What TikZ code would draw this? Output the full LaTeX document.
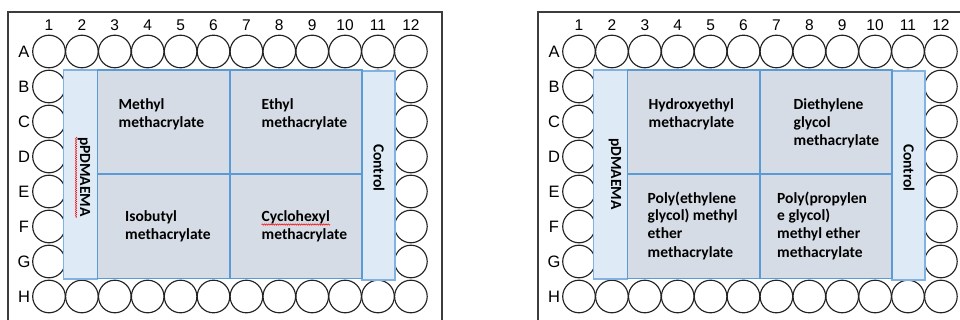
\documentclass[tikz,border=0pt]{standalone}
\usepackage{fontspec}
\setmainfont{Carlito}
\newfontfamily\arialfont{Liberation Sans}
\usepackage{tikz}
\usetikzlibrary{decorations.pathmorphing}

\definecolor{stripfill}{RGB}{222,235,247}
\definecolor{cellfill}{RGB}{214,220,229}
\definecolor{cellline}{RGB}{91,155,213}
\definecolor{stripline}{RGB}{130,178,225}
\definecolor{frameline}{RGB}{60,60,60}
\definecolor{wellline}{RGB}{35,35,35}

\tikzset{
  frame/.style={draw=frameline, line width=1.3pt},
  well/.style={circle, draw=wellline, line width=1.15pt, minimum size=32.6pt, inner sep=0pt},
  collabel/.style={font=\arialfont\fontsize{15.5}{15.5}\selectfont, inner sep=0pt},
  rowlabel/.style={font=\arialfont\fontsize{16.5}{16.5}\selectfont, inner sep=0pt},
  strip/.style={fill=stripfill, draw=stripline, line width=1.2pt},
  cell/.style={fill=cellfill, draw=cellline, line width=1.3pt},
  celltext/.style={anchor=base west, align=left, inner sep=0pt, font=\bfseries\fontsize{15.5}{18}\selectfont},
  striptext/.style={rotate=-90, inner sep=0pt, font=\bfseries\fontsize{15.5}{18}\selectfont},
  squiggle/.style={draw=red, line width=0.5pt, decorate, decoration={snake, segment length=2.2pt, amplitude=0.7pt}}
}

% frame, numbers, letters and the 96 wells of one plate
\newcommand{\platewells}[1]{%
  \draw[frame] (8,320) -- (8,12) -- (442,12) -- (442,320);
  \foreach \c in {1,...,12}
    \node[collabel] (#1col\c) at ({49+32.9*(\c-1)},25) {\c};
  \foreach \r [count=\i] in {A,...,H}
    \node[rowlabel] (#1row\r) at (24,{51.5+35*(\i-1)}) {\r};
  \foreach \r [count=\i] in {A,...,H}
    \foreach \c in {1,...,12}
      \node[well] (#1\r\c) at ({49+32.9*(\c-1)},{51.5+35*(\i-1)}) {};
  % treated areas
  \draw[strip] (63.5,70) rectangle (97.5,279);
  \draw[strip] (362,71) rectangle (395,280);
  \draw[cell] (97.5,70) rectangle (230,174);
  \draw[cell] (230,70) rectangle (362,174);
  \draw[cell] (97.5,174) rectangle (230,278.5);
  \draw[cell] (230,174) rectangle (362,278.5);
}

\begin{document}
\begin{tikzpicture}[x=1pt, y=-1pt]
\useasboundingbox (0,0) rectangle (960,320);

% left plate
\begin{scope}
  \platewells{L}
  \node[striptext] (Lpoly) at (84,177) {pPDMAEMA};
  \node[striptext] (Lcontrol) at (379,168) {Control};
  % anchors sit on the last line
  \node[celltext] (Lmethyl) at (118.5,128) {Methyl\\methacrylate};
  \node[celltext] (Lethyl) at (261.5,128) {Ethyl\\methacrylate};
  \node[celltext] (Lisobutyl) at (125,239.5) {Isobutyl\\methacrylate};
  \node[celltext] (Lcyclo) at (261.5,239.5) {Cyclohexyl\\methacrylate};
  \draw[squiggle] (76,137) -- (76,218);
  \draw[squiggle] (261.5,224.5) -- (330,224.5);
\end{scope}

% right plate
\begin{scope}[xshift=530pt]
  \draw[frame] (8,12) -- (440,12);
  \platewells{R}
  \node[striptext] (Rpoly) at (85,174) {pDMAEMA};
  \node[striptext] (Rcontrol) at (379,168) {Control};
  \node[celltext] (Rhydroxy) at (118.5,128) {Hydroxyethyl\\methacrylate};
  \node[celltext] (Rdiethylene) at (263.5,146) {Diethylene\\glycol\\methacrylate};
  \node[celltext] (Rpeg) at (117.5,257) {Poly(ethylene\\glycol) methyl\\ether\\methacrylate};
  \node[celltext] (Rppg) at (247,257) {Poly(propylen\\e glycol)\\methyl ether\\methacrylate};
\end{scope}
\end{tikzpicture}
\end{document}
